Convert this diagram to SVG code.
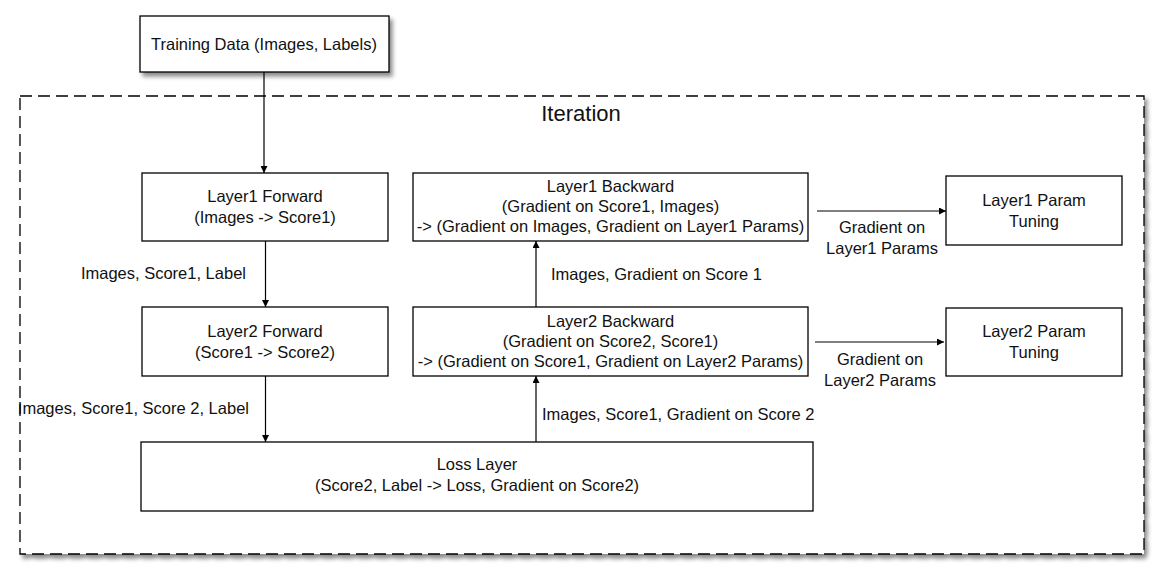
<svg xmlns="http://www.w3.org/2000/svg" width="1163" height="578" viewBox="0 0 1163 578">
<style>
.box{fill:#fff;stroke:#000;stroke-width:1.3}
.t{font-family:"Liberation Sans",Arial,sans-serif;font-size:16.5px;fill:#111}
.c{text-anchor:middle}
.r{text-anchor:end}
.edge{stroke:#000;stroke-width:1.2;fill:none;marker-end:url(#ah)}
</style>
<defs>
<marker id="ah" viewBox="0 0 10 10" refX="10" refY="5" markerWidth="7" markerHeight="7" markerUnits="userSpaceOnUse" orient="auto">
<path d="M0,0 L10,5 L0,10 z" fill="#000"/>
</marker>
<filter id="sh" x="-5%" y="-5%" width="115%" height="125%">
<feDropShadow dx="3" dy="4" stdDeviation="2.2" flood-color="#000" flood-opacity="0.45"/>
</filter>
</defs>
<rect width="1163" height="578" fill="#fff"/>

<g id="iteration">
<rect x="20" y="96" width="1124" height="458" fill="#fff" stroke="#000" stroke-width="1.3" stroke-dasharray="12,6" filter="url(#sh)"/>
<text class="t c" x="581" y="121" style="font-size:22px">Iteration</text>
</g>

<g id="training-data">
<rect class="box" x="140" y="16" width="249" height="56" filter="url(#sh)"/>
<text class="t c" x="264" y="50">Training Data (Images, Labels)</text>
</g>

<g id="connectors">
<line class="edge" x1="264" y1="72" x2="264" y2="173"/>
<line class="edge" x1="265.5" y1="241" x2="265.5" y2="307"/>
<line class="edge" x1="265.5" y1="376" x2="265.5" y2="442"/>
<line class="edge" x1="536" y1="442" x2="536" y2="376"/>
<line class="edge" x1="536" y1="307" x2="536" y2="241"/>
<line class="edge" x1="817" y1="211" x2="946" y2="211"/>
<line class="edge" x1="815" y1="342" x2="944" y2="342"/>
<text class="t r" x="246" y="279">Images, Score1, Label</text>
<text class="t r" x="249" y="414">Images, Score1, Score 2, Label</text>
<text class="t" x="551" y="280">Images, Gradient on Score 1</text>
<text class="t" x="542" y="420">Images, Score1, Gradient on Score 2</text>
<text class="t c" x="882" y="233">Gradient on</text>
<text class="t c" x="882" y="254">Layer1 Params</text>
<text class="t c" x="880" y="365">Gradient on</text>
<text class="t c" x="880" y="386">Layer2 Params</text>
</g>

<g id="layer1-forward">
<rect class="box" x="142" y="173" width="246" height="68"/>
<text class="t c" x="265" y="202">Layer1 Forward</text>
<text class="t c" x="265" y="223">(Images -&gt; Score1)</text>
</g>

<g id="layer2-forward">
<rect class="box" x="142" y="307" width="246" height="69"/>
<text class="t c" x="265" y="337">Layer2 Forward</text>
<text class="t c" x="265" y="358">(Score1 -&gt; Score2)</text>
</g>

<g id="layer1-backward">
<rect class="box" x="413" y="173" width="395" height="68"/>
<text class="t c" x="610.5" y="192">Layer1 Backward</text>
<text class="t c" x="610.5" y="212">(Gradient on Score1, Images)</text>
<text class="t c" x="610.5" y="232">-&gt; (Gradient on Images, Gradient on Layer1 Params)</text>
</g>

<g id="layer2-backward">
<rect class="box" x="413" y="307" width="395" height="69"/>
<text class="t c" x="610.5" y="327">Layer2 Backward</text>
<text class="t c" x="610.5" y="347">(Gradient on Score2, Score1)</text>
<text class="t c" x="610.5" y="367">-&gt; (Gradient on Score1, Gradient on Layer2 Params)</text>
</g>

<g id="layer1-param-tuning">
<rect class="box" x="946" y="176" width="176" height="69"/>
<text class="t c" x="1034" y="206">Layer1 Param</text>
<text class="t c" x="1034" y="227">Tuning</text>
</g>

<g id="layer2-param-tuning">
<rect class="box" x="946" y="308" width="176" height="68"/>
<text class="t c" x="1034" y="337">Layer2 Param</text>
<text class="t c" x="1034" y="358">Tuning</text>
</g>

<g id="loss-layer">
<rect class="box" x="141" y="442" width="672" height="69"/>
<text class="t c" x="477" y="470">Loss Layer</text>
<text class="t c" x="477" y="491">(Score2, Label -&gt; Loss, Gradient on Score2)</text>
</g>
</svg>
